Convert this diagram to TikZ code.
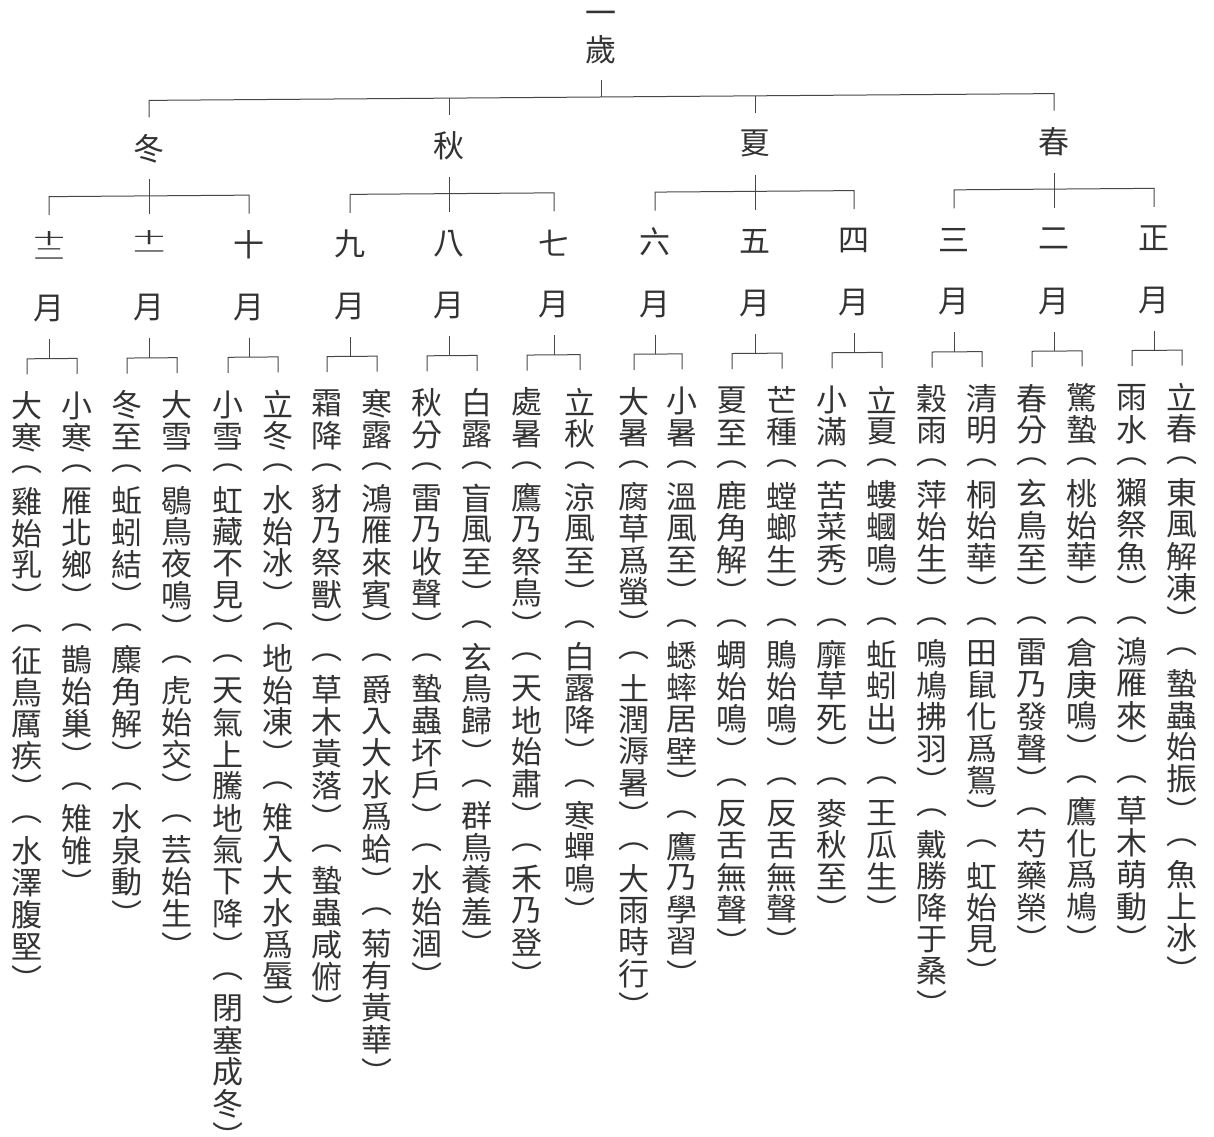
\documentclass[tikz,border=0pt]{standalone}
\usepackage{fontspec}
\usepackage{graphicx}
\newfontfamily\cjk{Noto Sans CJK TC}
\newdimen\slotH \slotH=31.8pt
\newdimen\slotW \slotW=34pt
\ExplSyntaxOn
\NewDocumentCommand\vcol{m}{
  \vbox{\offinterlineskip
    \tl_map_inline:nn {#1} {
      \hbox_to_wd:nn {\slotW} {\hss \vbox_to_ht:nn {\slotH} {\vss \hbox:n {##1} \vss} \hss}
    }
  }
}
\ExplSyntaxOff
\newcommand\tw[2]{\vbox to\slotH{\offinterlineskip
  \vbox to .5\slotH{\vss\hbox to\slotW{\hss\scalebox{1}[0.5]{#1}\hss}\vss}%
  \vbox to .5\slotH{\vss\hbox to\slotW{\hss\scalebox{1}[0.5]{#2}\hss}\vss}}}
\tikzset{
  ln/.style={line width=1pt, draw=black!72},
  txt/.style={inner sep=0pt, font=\fontsize{31}{31.8}\cjk, text=black!80},
}
\begin{document}
\begin{tikzpicture}[x=1pt,y=-1pt]
\useasboundingbox[fill=white] (0,0) rectangle (1214,1136);
\begin{scope}[yshift=-4.5pt, yslant=0.0075]
% top
\node[txt,anchor=north] (top) at (601,1.5) {\vcol{一歲}};
% seasons
\node[txt] (s1) at (149,145) {冬};
\node[txt] (s2) at (449,145) {秋};
\node[txt] (s3) at (755,145) {夏};
\node[txt] (s4) at (1054,145) {春};
\draw[ln] ([yshift=-15pt]top.south) -- (top.south |- 0,97);
\draw[ln] (s1 |- 0,114) -- (s1 |- 0,97) -- (s4 |- 0,97) -- (s4 |- 0,114);
\draw[ln] (s2 |- 0,97) -- (s2 |- 0,114);
\draw[ln] (s3 |- 0,97) -- (s3 |- 0,114);
% month numbers
\node[txt] (n01) at (49,242.5) {\tw{十}{二}};
\node[txt] (n02) at (149,242.5) {\tw{十}{一}};
\node[txt] (n03) at (249,242.5) {十};
\node[txt] (n04) at (350,242.5) {九};
\node[txt] (n05) at (449,242.5) {八};
\node[txt] (n06) at (554,242.5) {七};
\node[txt] (n07) at (655,242.5) {六};
\node[txt] (n08) at (755,242.5) {五};
\node[txt] (n09) at (854,242.5) {四};
\node[txt] (n10) at (954,242.5) {三};
\node[txt] (n11) at (1054,242.5) {二};
\node[txt] (n12) at (1154,242.5) {正};
\foreach \k in {01,02,03,04,05,06,07,08,09,10,11,12}
  \node[txt] (mo\k) at (n\k |- 0,304.5) {月};
% season brackets
\foreach \s/\a/\c in {s1/n01/n03, s2/n04/n06, s3/n07/n09, s4/n10/n12}{
  \draw[ln] (\s |- 0,176) -- (\s |- 0,211);
  \draw[ln] (\a |- 0,211) -- (\a |- 0,192.5) -- (\c |- 0,192.5) -- (\c |- 0,211);
}
% term columns
\node[txt,anchor=north] (t01) at (27,385.6) {\vcol{大寒︵雞始乳︶︵征鳥厲疾︶︵水澤腹堅︶}};
\node[txt,anchor=north] (t02) at (77,385.6) {\vcol{小寒︵雁北鄉︶︵鵲始巢︶︵雉雊︶}};
\node[txt,anchor=north] (t03) at (127,385.6) {\vcol{冬至︵蚯蚓結︶︵麋角解︶︵水泉動︶}};
\node[txt,anchor=north] (t04) at (177,385.6) {\vcol{大雪︵鶡鳥夜鳴︶︵虎始交︶︵芸始生︶}};
\node[txt,anchor=north] (t05) at (228,385.6) {\vcol{小雪︵虹藏不見︶︵天氣上騰地氣下降︶︵閉塞成冬︶}};
\node[txt,anchor=north] (t06) at (278,385.6) {\vcol{立冬︵水始冰︶︵地始凍︶︵雉入大水爲蜃︶}};
\node[txt,anchor=north] (t07) at (327,385.6) {\vcol{霜降︵豺乃祭獸︶︵草木黃落︶︵蟄蟲咸俯︶}};
\node[txt,anchor=north] (t08) at (377,385.6) {\vcol{寒露︵鴻雁來賓︶︵爵入大水爲蛤︶︵菊有黃華︶}};
\node[txt,anchor=north] (t09) at (427,385.6) {\vcol{秋分︵雷乃收聲︶︵蟄蟲坏戶︶︵水始涸︶}};
\node[txt,anchor=north] (t10) at (477,385.6) {\vcol{白露︵盲風至︶︵玄鳥歸︶︵群鳥養羞︶}};
\node[txt,anchor=north] (t11) at (527,385.6) {\vcol{處暑︵鷹乃祭鳥︶︵天地始肅︶︵禾乃登︶}};
\node[txt,anchor=north] (t12) at (580,385.6) {\vcol{立秋︵涼風至︶︵白露降︶︵寒蟬鳴︶}};
\node[txt,anchor=north] (t13) at (634,385.6) {\vcol{大暑︵腐草爲螢︶︵土潤溽暑︶︵大雨時行︶}};
\node[txt,anchor=north] (t14) at (682,385.6) {\vcol{小暑︵溫風至︶︵蟋蟀居壁︶︵鷹乃學習︶}};
\node[txt,anchor=north] (t15) at (732,385.6) {\vcol{夏至︵鹿角解︶︵蜩始鳴︶︵反舌無聲︶}};
\node[txt,anchor=north] (t16) at (782,385.6) {\vcol{芒種︵螳螂生︶︵鵙始鳴︶︵反舌無聲︶}};
\node[txt,anchor=north] (t17) at (832,385.6) {\vcol{小滿︵苦菜秀︶︵靡草死︶︵麥秋至︶}};
\node[txt,anchor=north] (t18) at (882,385.6) {\vcol{立夏︵螻蟈鳴︶︵蚯蚓出︶︵王瓜生︶}};
\node[txt,anchor=north] (t19) at (932,385.6) {\vcol{穀雨︵萍始生︶︵鳴鳩拂羽︶︵戴勝降于桑︶}};
\node[txt,anchor=north] (t20) at (982,385.6) {\vcol{清明︵桐始華︶︵田鼠化爲鴽︶︵虹始見︶}};
\node[txt,anchor=north] (t21) at (1032,385.6) {\vcol{春分︵玄鳥至︶︵雷乃發聲︶︵芍藥榮︶}};
\node[txt,anchor=north] (t22) at (1082,385.6) {\vcol{驚蟄︵桃始華︶︵倉庚鳴︶︵鷹化爲鳩︶}};
\node[txt,anchor=north] (t23) at (1132,385.6) {\vcol{雨水︵獺祭魚︶︵鴻雁來︶︵草木萌動︶}};
\node[txt,anchor=north] (t24) at (1182,385.6) {\vcol{立春︵東風解凍︶︵蟄蟲始振︶︵魚上冰︶}};
% month brackets
\foreach \m/\a/\b in {01/t01/t02, 02/t03/t04, 03/t05/t06, 04/t07/t08, 05/t09/t10, 06/t11/t12,
                      07/t13/t14, 08/t15/t16, 09/t17/t18, 10/t19/t20, 11/t21/t22, 12/t23/t24}{
  \draw[ln] (mo\m |- 0,335) -- (mo\m |- 0,354.5);
  \draw[ln] (\a |- 0,370) -- (\a |- 0,354.5) -- (\b |- 0,354.5) -- (\b |- 0,370);
}
\end{scope}
\end{tikzpicture}
\end{document}
